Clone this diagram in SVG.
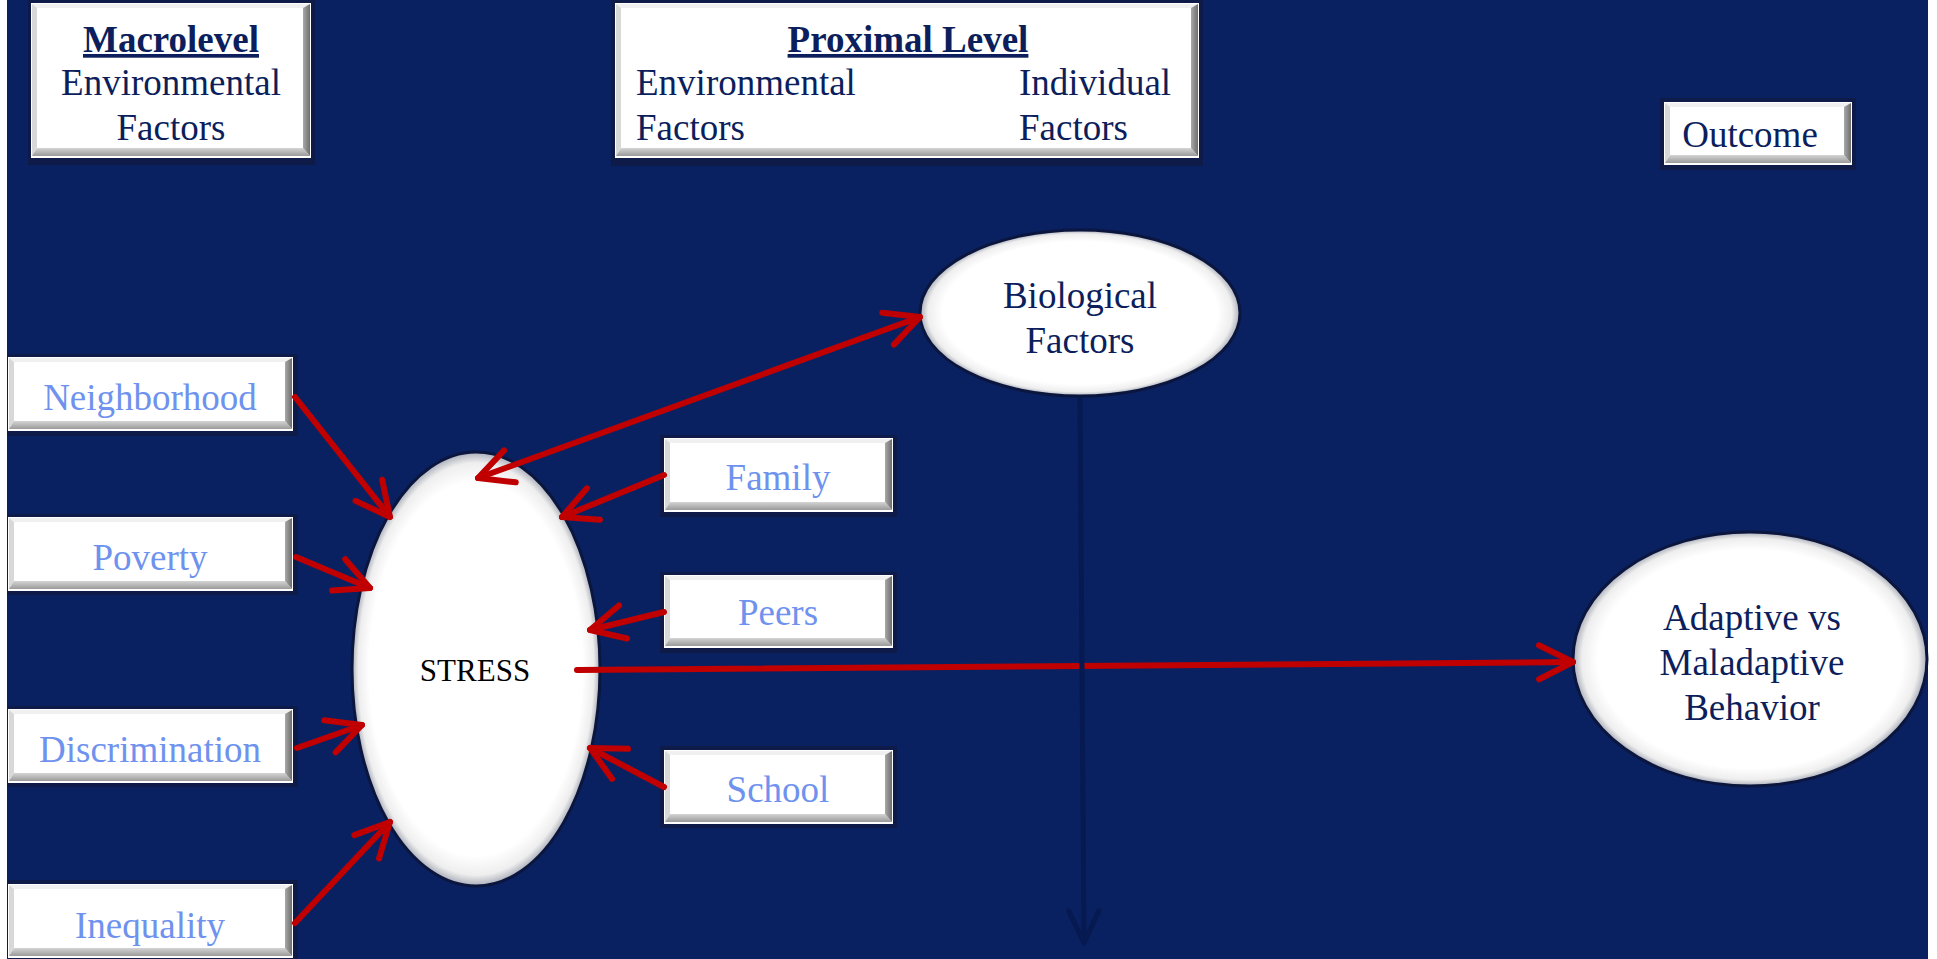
<svg xmlns="http://www.w3.org/2000/svg" width="1937" height="959" viewBox="0 0 1937 959">
<defs>
<style>
.sh{fill:#0E1A48}
.wb{fill:#ffffff}
.bt{fill:#f0f0f0}
.bl{fill:#d8d8d8}
.bb{fill:url(#gb)}
.br{fill:url(#gr)}
.hd{font-family:"Liberation Serif","Times New Roman",serif;font-size:37px;fill:#0C1F5C;text-anchor:middle}
.hb{font-weight:bold;text-decoration:underline}
.ls{text-anchor:start}
.lb{font-family:"Liberation Serif","Times New Roman",serif;font-size:37px;fill:#6E92EE;text-anchor:middle}
.el{stroke:#0B163F;stroke-width:3;fill:url(#ge)}
.rc{stroke:#C00000;stroke-width:6;fill:none;stroke-linecap:round}
.nc{stroke:#061950;stroke-width:5;fill:none}
</style>
<linearGradient id="gb" x1="0" y1="0" x2="0" y2="1"><stop offset="0" stop-color="#d4d4d4"/><stop offset="1" stop-color="#9a9a9a"/></linearGradient>
<linearGradient id="gr" x1="0" y1="0" x2="1" y2="0"><stop offset="0" stop-color="#a8a8a8"/><stop offset="1" stop-color="#6e6e6e"/></linearGradient>
<radialGradient id="ge" cx="0.5" cy="0.5" r="0.5"><stop offset="0.86" stop-color="#ffffff"/><stop offset="0.95" stop-color="#eeeeee"/><stop offset="1" stop-color="#a9adb8"/></radialGradient>
<marker id="ar" markerUnits="userSpaceOnUse" markerWidth="44" markerHeight="44" viewBox="0 0 44 44" refX="40" refY="22" orient="auto-start-reverse"><path d="M6,5 L40,22 L6,39" fill="none" stroke="#C00000" stroke-width="6" stroke-linecap="round" stroke-linejoin="round"/></marker>
<marker id="an" markerUnits="userSpaceOnUse" markerWidth="44" markerHeight="44" viewBox="0 0 44 44" refX="40" refY="22" orient="auto"><path d="M8,7 L40,22 L8,37" fill="none" stroke="#061950" stroke-width="5" stroke-linecap="round" stroke-linejoin="round"/></marker>
</defs>
<rect x="0" y="0" width="1937" height="959" fill="#ffffff"/>
<rect x="7" y="0" width="1921" height="959" fill="#0A2161"/>

<g id="macrolevel">
<rect class="sh" x="28" y="0" width="287" height="165"/>
<rect class="wb" x="31" y="3" width="280" height="155"/>
<path class="bt" d="M32 4 H310 L305 8 H37 Z"/><path class="bl" d="M32 4 L37 8 V148 L32 156 Z"/><path class="bb" d="M32 156 H310 L303 148 H37 Z"/><path class="br" d="M310 4 V156 L303 148 V8 Z"/>
<text class="hd hb" x="171" y="52">Macrolevel</text>
<text class="hd" x="171" y="95">Environmental</text>
<text class="hd" x="171" y="140">Factors</text>
</g>

<g id="proximal">
<rect class="sh" x="611" y="0" width="592" height="166"/>
<rect class="wb" x="615" y="3" width="584" height="155"/>
<path class="bt" d="M616 4 H1198 L1193 8 H621 Z"/><path class="bl" d="M616 4 L621 8 V148 L616 156 Z"/><path class="bb" d="M616 156 H1198 L1191 148 H621 Z"/><path class="br" d="M1198 4 V156 L1191 148 V8 Z"/>
<text class="hd hb" x="908" y="52">Proximal Level</text>
<text class="hd ls" x="636" y="95">Environmental</text>
<text class="hd ls" x="636" y="140">Factors</text>
<text class="hd ls" x="1019" y="95">Individual</text>
<text class="hd ls" x="1019" y="140">Factors</text>
</g>

<g id="outcome">
<rect class="sh" x="1660" y="98" width="196" height="72"/>
<rect class="wb" x="1664" y="102" width="188" height="63"/>
<path class="bt" d="M1665 103 H1851 L1846 107 H1670 Z"/><path class="bl" d="M1665 103 L1670 107 V155 L1665 163 Z"/><path class="bb" d="M1665 163 H1851 L1844 155 H1670 Z"/><path class="br" d="M1851 103 V163 L1844 155 V107 Z"/>
<text class="hd" x="1750" y="147">Outcome</text>
</g>

<g id="neighborhood">
<rect class="sh" x="7" y="354" width="291" height="82"/>
<rect class="wb" x="8" y="357" width="285" height="74"/>
<path class="bt" d="M9 358 H292 L287 362 H14 Z"/><path class="bl" d="M9 358 L14 362 V421 L9 429 Z"/><path class="bb" d="M9 429 H292 L285 421 H14 Z"/><path class="br" d="M292 358 V429 L285 421 V362 Z"/>
<text class="lb" x="150" y="410">Neighborhood</text>
</g>

<g id="poverty">
<rect class="sh" x="7" y="514" width="291" height="81"/>
<rect class="wb" x="8" y="517" width="285" height="74"/>
<path class="bt" d="M9 518 H292 L287 522 H14 Z"/><path class="bl" d="M9 518 L14 522 V581 L9 589 Z"/><path class="bb" d="M9 589 H292 L285 581 H14 Z"/><path class="br" d="M292 518 V589 L285 581 V522 Z"/>
<text class="lb" x="150" y="570">Poverty</text>
</g>

<g id="discrimination">
<rect class="sh" x="7" y="706" width="291" height="81"/>
<rect class="wb" x="8" y="709" width="285" height="74"/>
<path class="bt" d="M9 710 H292 L287 714 H14 Z"/><path class="bl" d="M9 710 L14 714 V773 L9 781 Z"/><path class="bb" d="M9 781 H292 L285 773 H14 Z"/><path class="br" d="M292 710 V781 L285 773 V714 Z"/>
<text class="lb" x="150" y="762">Discrimination</text>
</g>

<g id="inequality">
<rect class="sh" x="7" y="880" width="291" height="79"/>
<rect class="wb" x="8" y="884" width="285" height="74"/>
<path class="bt" d="M9 885 H292 L287 889 H14 Z"/><path class="bl" d="M9 885 L14 889 V948 L9 956 Z"/><path class="bb" d="M9 956 H292 L285 948 H14 Z"/><path class="br" d="M292 885 V956 L285 948 V889 Z"/>
<text class="lb" x="150" y="938">Inequality</text>
</g>

<g id="family">
<rect class="sh" x="660" y="435" width="237" height="82"/>
<rect class="wb" x="664" y="438" width="229" height="74"/>
<path class="bt" d="M665 439 H892 L887 443 H670 Z"/><path class="bl" d="M665 439 L670 443 V502 L665 510 Z"/><path class="bb" d="M665 510 H892 L885 502 H670 Z"/><path class="br" d="M892 439 V510 L885 502 V443 Z"/>
<text class="lb" x="778" y="490">Family</text>
</g>

<g id="peers">
<rect class="sh" x="660" y="572" width="237" height="81"/>
<rect class="wb" x="664" y="575" width="229" height="73"/>
<path class="bt" d="M665 576 H892 L887 580 H670 Z"/><path class="bl" d="M665 576 L670 580 V638 L665 646 Z"/><path class="bb" d="M665 646 H892 L885 638 H670 Z"/><path class="br" d="M892 576 V646 L885 638 V580 Z"/>
<text class="lb" x="778" y="625">Peers</text>
</g>

<g id="school">
<rect class="sh" x="660" y="746" width="237" height="82"/>
<rect class="wb" x="664" y="750" width="229" height="74"/>
<path class="bt" d="M665 751 H892 L887 755 H670 Z"/><path class="bl" d="M665 751 L670 755 V814 L665 822 Z"/><path class="bb" d="M665 822 H892 L885 814 H670 Z"/><path class="br" d="M892 751 V822 L885 814 V755 Z"/>
<text class="lb" x="778" y="802">School</text>
</g>

<g id="stress">
<ellipse class="el" cx="476" cy="669" rx="124" ry="217"/>
<text x="475" y="681" font-family="Liberation Serif, Times New Roman, serif" font-size="31" fill="#000000" text-anchor="middle">STRESS</text>
</g>

<g id="biological">
<ellipse class="el" cx="1080" cy="313" rx="160" ry="83"/>
<text class="hd" x="1080" y="308">Biological</text>
<text class="hd" x="1080" y="353">Factors</text>
</g>

<g id="behavior">
<ellipse class="el" cx="1750" cy="659" rx="177" ry="127"/>
<text class="hd" x="1752" y="630">Adaptive vs</text>
<text class="hd" x="1752" y="675">Maladaptive</text>
<text class="hd" x="1752" y="720">Behavior</text>
</g>

<g id="connectors">
<line class="rc" x1="295" y1="397" x2="390" y2="517" marker-end="url(#ar)"/>
<line class="rc" x1="296" y1="557" x2="370" y2="588" marker-end="url(#ar)"/>
<line class="rc" x1="297" y1="748" x2="362" y2="725" marker-end="url(#ar)"/>
<line class="rc" x1="295" y1="923" x2="390" y2="822" marker-end="url(#ar)"/>
<line class="rc" x1="664" y1="475" x2="562" y2="517" marker-end="url(#ar)"/>
<line class="rc" x1="664" y1="612" x2="590" y2="630" marker-end="url(#ar)"/>
<line class="rc" x1="664" y1="787" x2="590" y2="748" marker-end="url(#ar)"/>
<line class="rc" x1="478" y1="478" x2="920" y2="317" marker-start="url(#ar)" marker-end="url(#ar)"/>
<line class="rc" x1="577" y1="670" x2="1573" y2="662" stroke-linecap="butt" marker-end="url(#ar)"/>
<line class="nc" x1="1080" y1="397" x2="1084" y2="943" marker-end="url(#an)"/>
</g>
</svg>
